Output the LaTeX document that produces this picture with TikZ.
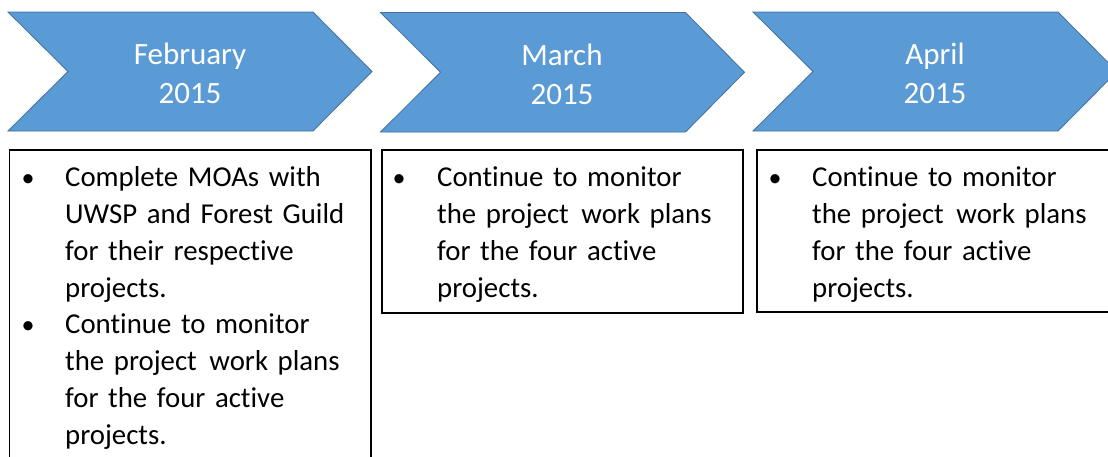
\documentclass[tikz,border=0pt]{standalone}
\usepackage{fontspec}
\setmainfont[Ligatures=NoCommon]{Carlito}
\definecolor{chevfill}{HTML}{5B9BD5}
\definecolor{chevline}{HTML}{41719C}
\tikzset{
  chev/.style={fill=chevfill, draw=chevline, line width=0.8pt, line join=miter},
  chevtext/.style={text=white, align=center, font=\fontsize{31}{39}\selectfont, inner sep=0pt},
  boxframe/.style={draw=black, line width=1.4pt},
  itemtext/.style={anchor=base west, inner sep=0pt, text width=300pt, align=left,
    font=\fontsize{28.8}{36.8}\selectfont},
  bulletmark/.style={anchor=base, inner sep=0pt, font=\fontsize{26}{36.8}\selectfont}
}
\newcommand{\chevron}[3]{% x0, top, bottom
  \path[chev] (#1,#2) -- ++(305,0) -- ({#1+364},{(#2+#3)/2}) -- ({#1+305},#3) -- (#1,#3) -- ({#1+60},{(#2+#3)/2}) -- cycle;
}
\begin{document}
\begin{tikzpicture}[x=1pt,y=-1pt]
\useasboundingbox (0,0) rectangle (1108,456);
\clip (0,0) rectangle (1108,456);
\fill[white] (0,0) rectangle (1108,456);
% chevrons
\chevron{8}{12}{131}
\chevron{380.5}{12.5}{132}
\chevron{753}{12}{131}
\node[chevtext] (t1) at (190,73) {February\\2015};
\node[chevtext] (t2) at (562,74) {March\\2015};
\node[chevtext] (t3) at (935,73) {April\\2015};
% boxes
\draw[boxframe] (9.5,150) rectangle (371,470);
\draw[boxframe] (382,150) rectangle (743,313);
\draw[boxframe] (757,150) rectangle (1125,312);
% box 1
\node[bulletmark] (b1a) at (28,186.7) {•};
\node[itemtext] (i1a) at (65,186.7) {Complete MOAs with\\UWSP and Forest Guild\\for their respective\\projects.};
\node[bulletmark] (b1b) at (28,333.9) {•};
\node[itemtext] (i1b) at (65,333.9) {Continue to monitor\\the project\hspace{3pt} work plans\\for the four active\\projects.};
% box 2
\node[bulletmark] (b2) at (399,186.7) {•};
\node[itemtext] (i2) at (437,186.7) {Continue to monitor\\the project\hspace{3pt} work plans\\for the four active\\projects.};
% box 3
\node[bulletmark] (b3) at (775,186.7) {•};
\node[itemtext] (i3) at (812,186.7) {Continue to monitor\\the project\hspace{3pt} work plans\\for the four active\\projects.};
\end{tikzpicture}
\end{document}
